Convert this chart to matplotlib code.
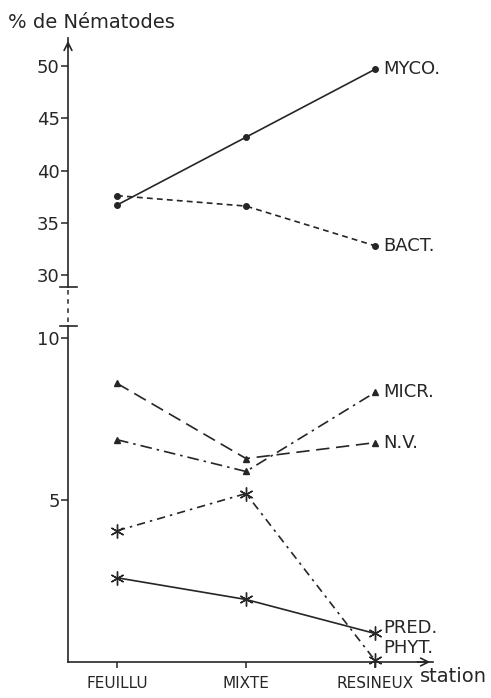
import matplotlib.pyplot as plt
from matplotlib.lines import Line2D

plt.rcParams['font.family'] = ['Liberation Sans Narrow', 'DejaVu Sans']

stations = ['FEUILLU', 'MIXTE', 'RESINEUX']
x = [0, 1, 2]

# upper panel (30-50 %)
myco = [36.7, 43.2, 49.7]
bact = [37.6, 36.6, 32.8]
# lower panel (0-10 %)
nv = [8.6, 6.28, 6.77]
micr = [6.86, 5.88, 8.32]
phyt = [4.05, 5.2, 0.05]
pred = [2.6, 1.93, 0.88]

ink = '#262626'
W, H = 491, 698
fig = plt.figure(figsize=(W / 100, H / 100), dpi=100)

def frac(px_left, px_top, px_right, px_bottom):
    return [px_left / W, 1 - px_bottom / H, (px_right - px_left) / W, (px_bottom - px_top) / H]

ax_top = fig.add_axes(frac(68, 38, 433, 287))
ax_bot = fig.add_axes(frac(68, 326, 433, 662))

xlim = (-0.38, 2.45)
ax_top.set_xlim(*xlim)
ax_bot.set_xlim(*xlim)
ax_top.set_ylim(28.85, 52.7)
ax_bot.set_ylim(0, 10.37)

for ax in (ax_top, ax_bot):
    for s in ('top', 'right'):
        ax.spines[s].set_visible(False)
    ax.spines['left'].set_color(ink)
    ax.spines['left'].set_linewidth(1.2)
    ax.tick_params(axis='y', direction='out', length=5, width=1.1, colors=ink,
                   labelsize=13, pad=1)
ax_top.spines['bottom'].set_visible(False)
ax_top.set_xticks([])
ax_top.set_yticks([30, 35, 40, 45, 50])
ax_bot.set_yticks([5, 10])
ax_bot.spines['bottom'].set_color(ink)
ax_bot.spines['bottom'].set_linewidth(1.2)
ax_bot.set_xticks(x)
ax_bot.set_xticklabels(stations)
ax_bot.tick_params(axis='x', direction='out', length=4, width=1.1, colors=ink,
                   labelsize=11, pad=6)

lw = 1.2
ax_top.plot(x, myco, color=ink, lw=lw, marker='o', ms=4, clip_on=False)
ax_top.plot(x, bact, color=ink, lw=lw, ls=(0, (3.5, 2.5)), marker='o', ms=4, clip_on=False)
ax_bot.plot(x, nv, color=ink, lw=lw, ls=(0, (8, 4)), marker='^', ms=5, clip_on=False)
ax_bot.plot(x, micr, color=ink, lw=lw, ls=(0, (7, 3, 1.5, 3)), marker='^', ms=5, clip_on=False)
ax_bot.plot(x, phyt, color=ink, lw=lw, ls=(0, (5, 3, 1.5, 3)), marker=(6, 2, 0), ms=10,
            mew=1.0, clip_on=False)
ax_bot.plot(x, pred, color=ink, lw=lw, marker=(6, 2, 0), ms=10, mew=1.0, clip_on=False)

# end labels
def end_label(ax, name, yv, dy=0):
    ax.annotate(name, xy=(2, yv), xytext=(6, dy), textcoords='offset points',
                va='center', ha='left', fontsize=13, color=ink)

end_label(ax_top, 'MYCO.', myco[-1])
end_label(ax_top, 'BACT.', bact[-1])
end_label(ax_bot, 'MICR.', micr[-1])
end_label(ax_bot, 'N.V.', nv[-1])
end_label(ax_bot, 'PRED.', pred[-1], 4)
end_label(ax_bot, 'PHYT.', phyt[-1], 9)

# arrows on axes
ax_top.annotate('', xy=(0, 1.0), xytext=(0, 0.95), xycoords='axes fraction',
                arrowprops=dict(arrowstyle='->', lw=1.2, color=ink, mutation_scale=14))
ax_bot.annotate('', xy=(1.0, 0), xytext=(0.95, 0), xycoords='axes fraction',
                arrowprops=dict(arrowstyle='->', lw=1.2, color=ink, mutation_scale=14))

# axis break
ax_top.plot([-0.022, 0.025], [0, 0], transform=ax_top.transAxes, color=ink, lw=1.2, clip_on=False)
ax_bot.plot([-0.022, 0.025], [1, 1], transform=ax_bot.transAxes, color=ink, lw=1.2, clip_on=False)
fig.add_artist(Line2D([68 / W, 68 / W], [1 - 290 / H, 1 - 323 / H], color=ink, lw=1.1,
                      ls=(0, (3, 3))))

fig.text(8 / W, 1 - 22 / H, '% de Nématodes', fontsize=14, color=ink, va='center', ha='left')
fig.text(420 / W, 1 - 677 / H, 'station', fontsize=14, color=ink, va='center', ha='left')

fig.savefig('out.png', dpi=100)
